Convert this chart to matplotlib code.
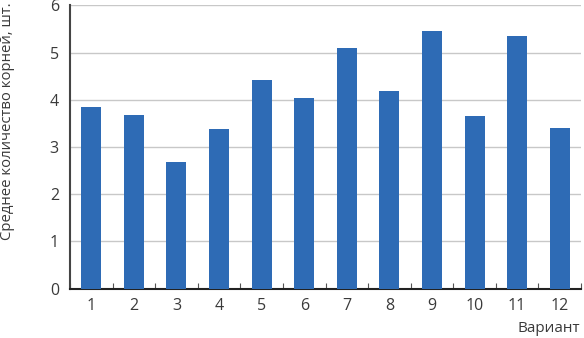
import matplotlib
matplotlib.use("Agg")
import matplotlib.pyplot as plt
import numpy as np

categories = ["1", "2", "3", "4", "5", "6", "7", "8", "9", "10", "11", "12"]
values = [3.84, 3.68, 2.68, 3.38, 4.42, 4.04, 5.09, 4.19, 5.46, 3.65, 5.36, 3.40]
yticks = [0, 1, 2, 3, 4, 5, 6]

plt.rcParams['font.family'] = ['Open Sans', 'DejaVu Sans']

fig = plt.figure(figsize=5.84 * np.array([1, 338 / 584]), dpi=100)
ax = fig.add_axes([70 / 584, 1 - 288.7 / 338, (581 - 70) / 584, (288.7 - 5.3) / 338])

x = np.arange(len(categories))
ax.bar(x, values, width=0.47, color="#2E6BB5", zorder=3)

ax.set_xlim(-0.5, len(categories) - 0.5)
ax.set_ylim(0, 6)
ax.set_yticks(yticks)
ax.set_yticklabels([str(v) for v in yticks], fontsize=11.5, color="#3a3a3a")
ax.yaxis.grid(True, color="#c8c8c8", linewidth=1.0, zorder=0)
ax.tick_params(axis='y', length=0, pad=8)

ax.set_xticks(x)
ax.set_xticklabels(categories, fontsize=11.5, color="#3a3a3a")
ax.tick_params(axis='x', which='major', length=0, pad=7)
ax.set_xticks(np.arange(-0.5, len(categories)), minor=True)
ax.tick_params(axis='x', which='minor', direction='in', length=4, width=0.8, color="#555555")

for s in ['top', 'right']:
    ax.spines[s].set_visible(False)
ax.spines['left'].set_color("#444444")
ax.spines['left'].set_linewidth(1.5)
ax.spines['bottom'].set_color("#222222")
ax.spines['bottom'].set_linewidth(1.5)

fig.text(8 / 584, 1 - 121 / 338, "Среднее количество корней, шт.", rotation=90,
         ha='center', va='center', fontsize=10.7, color="#3a3a3a")
fig.text(580 / 584, 1 - 328 / 338, "Вариант", ha='right', va='center',
         fontsize=11, color="#3a3a3a")

fig.savefig("out.png", dpi=100)
